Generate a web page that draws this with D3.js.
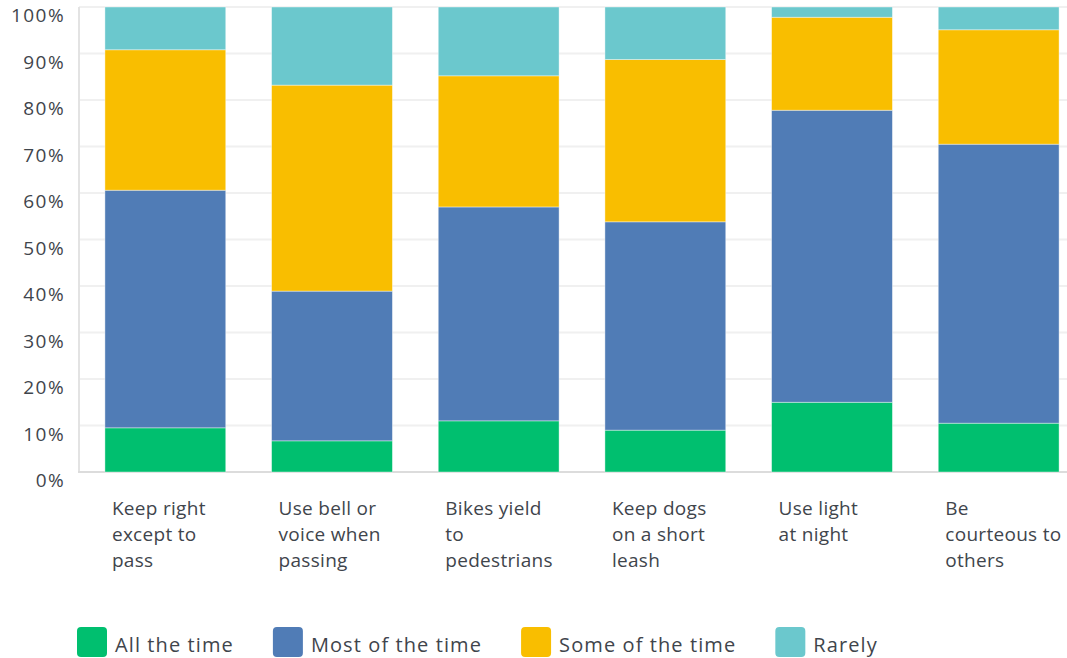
<!DOCTYPE html>
<html lang="en">
<head>
    <meta charset="UTF-8">
    <title>Trail etiquette</title>
    <style>
        body {
            margin: 0;
            background: #fff;
        }
        text {
            font-family: "Open Sans", sans-serif;
            fill: #3f454c;
        }
    </style>
</head>
<body>
<div id="chart"></div>
<script src="https://d3js.org/d3.v7.min.js"></script>
<script>
    // data (percent of answers)
    const categories = ["Keep right except to pass", "Use bell or voice when passing", "Bikes yield to pedestrians",
        "Keep dogs on a short leash", "Use light at night", "Be courteous to others"];
    const categoryLines = [["Keep right", "except to", "pass"], ["Use bell or", "voice when", "passing"],
        ["Bikes yield", "to", "pedestrians"], ["Keep dogs", "on a short", "leash"], ["Use light", "at night"],
        ["Be", "courteous to", "others"]];
    const seriesNames = ["All the time", "Most of the time", "Some of the time", "Rarely"];
    const allTheTime = [9.5, 6.7, 11.0, 9.0, 15.0, 10.5];
    const mostOfTheTime = [51.1, 32.2, 46.0, 44.8, 62.8, 60.0];
    const someOfTheTime = [30.2, 44.3, 28.2, 34.9, 20.0, 24.6];
    const rarely = [9.2, 16.8, 14.8, 11.3, 2.2, 4.9];
    const yTicks = [0, 10, 20, 30, 40, 50, 60, 70, 80, 90, 100];
    const colors = ["#00bf6f", "#507cb6", "#f9be00", "#6bc8cd"];

    const width = 1067, height = 658;
    const margin = {top: 7, right: 0, bottom: 186, left: 79};

    const svg = d3.select("#chart").append("svg")
        .attr("width", width)
        .attr("height", height);

    // build rows for the stack
    const rows = categories.map((c, i) => ({
        cat: c,
        "All the time": allTheTime[i],
        "Most of the time": mostOfTheTime[i],
        "Some of the time": someOfTheTime[i],
        "Rarely": rarely[i]
    }));
    const stacked = d3.stack().keys(seriesNames)(rows);

    const x = d3.scaleBand()
        .domain(categories)
        .range([82, 1082])
        .paddingInner(0.275)
        .paddingOuter(0.1375);

    const y = d3.scaleLinear()
        .domain([0, 100])
        .range([height - margin.bottom, margin.top]);

    // grid lines
    svg.append("g")
        .selectAll("line")
        .data(yTicks.slice(1))
        .join("line")
        .attr("x1", margin.left)
        .attr("x2", width)
        .attr("y1", d => y(d))
        .attr("y2", d => y(d))
        .attr("stroke", "#f0f0f0")
        .attr("stroke-width", 2);

    // axis lines
    svg.append("line")
        .attr("x1", margin.left).attr("x2", margin.left)
        .attr("y1", y(100)).attr("y2", y(0))
        .attr("stroke", "#e3e3e3").attr("stroke-width", 2);
    svg.append("line")
        .attr("x1", margin.left - 1).attr("x2", width)
        .attr("y1", y(0)).attr("y2", y(0))
        .attr("stroke", "#dcdcdc").attr("stroke-width", 2);

    // y tick labels
    svg.append("g")
        .selectAll("text")
        .data(yTicks)
        .join("text")
        .attr("x", 65)
        .attr("y", d => y(d) + 15)
        .attr("text-anchor", "end")
        .style("font-size", "19px")
        .style("letter-spacing", "1.4px")
        .text(d => d + "%");

    // bars
    svg.append("g")
        .selectAll("g")
        .data(stacked)
        .join("g")
        .attr("fill", (d, i) => colors[i])
        .selectAll("rect")
        .data(d => d)
        .join("rect")
        .attr("x", d => x(d.data.cat))
        .attr("width", x.bandwidth())
        .attr("y", d => y(d[1]))
        .attr("height", d => y(d[0]) - y(d[1]))
        .attr("stroke", "#ffffff")
        .attr("stroke-opacity", 0.5)
        .attr("stroke-width", 0.8);

    // category labels
    const catLabels = svg.append("g")
        .selectAll("text")
        .data(categories)
        .join("text")
        .attr("x", d => x(d) + 7)
        .attr("y", 515)
        .style("font-size", "19px")
        .style("letter-spacing", "0.3px");
    catLabels.selectAll("tspan")
        .data((d, i) => categoryLines[i])
        .join("tspan")
        .attr("x", function () { return d3.select(this.parentNode).attr("x"); })
        .attr("dy", (d, i) => i === 0 ? 0 : 26)
        .text(d => d);

    // legend
    const legend = svg.append("g");
    let lx = 77;
    seriesNames.forEach((name, i) => {
        legend.append("rect")
            .attr("x", lx).attr("y", 627)
            .attr("width", 30).attr("height", 30)
            .attr("rx", 4)
            .attr("fill", colors[i]);
        const t = legend.append("text")
            .attr("x", lx + 38).attr("y", 652)
            .style("font-size", "20px")
            .style("letter-spacing", "1.1px")
            .text(name);
        lx = lx + 38 + t.node().getComputedTextLength() + 39;
    });
</script>
</body>
</html>
